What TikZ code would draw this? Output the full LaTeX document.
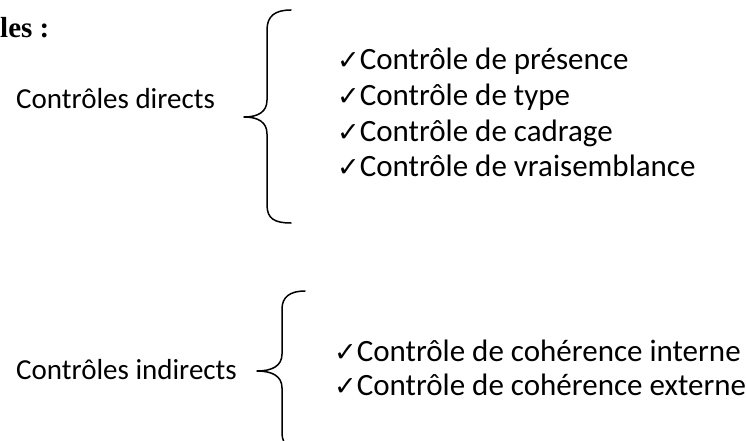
\documentclass[tikz,border=0pt]{standalone}
\usepackage{fontspec}
\setmainfont{Carlito}
\newfontfamily\titlefont{Liberation Serif}
\newfontfamily\checkfont{DejaVu Sans}
\usetikzlibrary{calc}

\newcommand{\chk}{{\checkfont\fontsize{27}{30}\selectfont ✓}}

\tikzset{
	group text/.style = {anchor = base west, inner sep = 0pt, font = \fontsize{29}{35}\selectfont},
	item text/.style = {anchor = base west, inner sep = 0pt, font = \fontsize{31}{37}\selectfont},
	brace line/.style = {line width = 1.5pt, line join = round, line cap = round}
}

\begin{document}
\begin{tikzpicture}[x = 1pt, y = -1pt]
		\useasboundingbox (0, 0) rectangle (746, 441);
		
		\def\dy{35.5};
		
		\node [anchor = base west, inner sep = 0pt, font = \titlefont\bfseries\fontsize{29}{34}\selectfont] (title) at (0, 38) {les :};
		
		% contrôles directs
		\node [group text] (direct) at (16, 109) {Contrôles directs};
		
		\coordinate (direct top) at (291, 10);
		\coordinate (direct tip) at (244, 117);
		\coordinate (direct bottom) at (291, 223);
		
		\draw [brace line] (direct top) .. controls (275, 10) and (267, 16) .. (267, 30)
			-- (267, 100) .. controls (267, 112) and (258, 117) .. (direct tip)
			.. controls (258, 117) and (267, 122) .. (267, 134)
			-- (267, 205) .. controls (267, 219) and (275, 223) .. (direct bottom);
		
		\foreach \txt [count = \i] in {Contrôle de présence, Contrôle de type, Contrôle de cadrage, Contrôle de vraisemblance}
			\node [item text] (direct item \i) at (337, {70 + \dy*(\i - 1)}) {\chk\txt};
		
		% contrôles indirects
		\node [group text] (indirect) at (16, 379) {Contrôles indirects};
		
		\coordinate (indirect top) at (305, 291);
		\coordinate (indirect tip) at (257, 371);
		\coordinate (indirect bottom) at (305, 451);
		
		\draw [brace line] (indirect top) .. controls (290, 291) and (282, 297) .. (282, 309)
			-- (282, 354) .. controls (282, 366) and (272, 371) .. (indirect tip)
			.. controls (272, 371) and (282, 376) .. (282, 388)
			-- (282, 433) .. controls (282, 445) and (290, 451) .. (indirect bottom);
		
		\node [item text] (indirect item 1) at (334, 361) {\chk Contrôle de cohérence interne};
		\node [item text] (indirect item 2) at (334, 395) {\chk Contrôle de cohérence externe};
	\end{tikzpicture}
\end{document}
